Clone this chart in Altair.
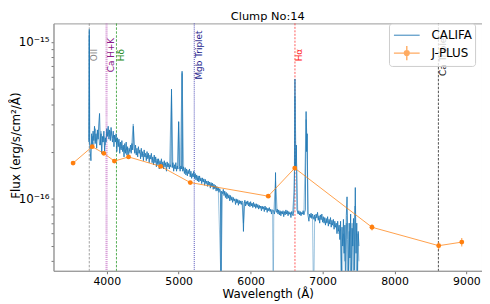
import altair as alt
import pandas as pd

# ---------------- data (flux in units of 1e-16 erg/s/cm2/A) ----------------
califa_wl = [
    3750, 3757, 3764, 3780, 3790, 3800, 3810, 3820, 3830, 3840,
    3850, 3860, 3870, 3880, 3890, 3900, 3910, 3920, 3930, 3940,
    3950, 3960, 3970, 3980, 3990, 4000, 4010, 4020, 4030, 4040,
    4050, 4060, 4070, 4080, 4090, 4100, 4110, 4120, 4130, 4140,
    4150, 4160, 4170, 4180, 4190, 4200, 4210, 4220, 4230, 4240,
    4250, 4260, 4270, 4280, 4290, 4300, 4310, 4320, 4330, 4340,
    4350, 4360, 4370, 4380, 4390, 4400, 4410, 4420, 4430, 4440,
    4450, 4460, 4470, 4480, 4490, 4500, 4510, 4520, 4530, 4540,
    4550, 4560, 4570, 4580, 4590, 4600, 4610, 4620, 4630, 4640,
    4650, 4660, 4670, 4680, 4690, 4700, 4710, 4720, 4730, 4740,
    4750, 4760, 4770, 4780, 4790, 4800, 4810, 4820, 4830, 4840,
    4850, 4860, 4870, 4880, 4890, 4900, 4910, 4920, 4930, 4940,
    4950, 4960, 4970, 4980, 4990, 4999, 5010, 5020, 5030, 5040,
    5047, 5055, 5065, 5080, 5090, 5100, 5110, 5120, 5130, 5140,
    5150, 5160, 5170, 5180, 5190, 5200, 5210, 5220, 5230, 5240,
    5250, 5260, 5270, 5280, 5290, 5300, 5310, 5320, 5330, 5340,
    5350, 5360, 5370, 5380, 5390, 5400, 5410, 5420, 5430, 5440,
    5450, 5460, 5470, 5480, 5490, 5500, 5510, 5520, 5530, 5540,
    5550, 5560, 5570, 5580, 5588, 5596, 5610, 5620, 5630, 5640,
    5650, 5660, 5670, 5680, 5690, 5700, 5710, 5720, 5730, 5740,
    5750, 5760, 5770, 5780, 5790, 5800, 5810, 5820, 5830, 5840,
    5850, 5860, 5870, 5880, 5890, 5900, 5910, 5920, 5930, 5940,
    5950, 5960, 5970, 5980, 5990, 6000, 6010, 6020, 6030, 6040,
    6050, 6060, 6070, 6080, 6090, 6100, 6110, 6120, 6130, 6140,
    6150, 6160, 6170, 6180, 6190, 6200, 6210, 6220, 6230, 6240,
    6250, 6260, 6270, 6280, 6290, 6300, 6320, 6330, 6340, 6346,
    6352, 6360, 6370, 6380, 6390, 6400, 6410, 6420, 6430, 6440,
    6450, 6460, 6470, 6480, 6490, 6500, 6510, 6520, 6530, 6540,
    6550, 6560, 6570, 6580, 6590, 6600, 6610, 6616, 6622, 6636,
    6645, 6660, 6670, 6680, 6690, 6700, 6710, 6720, 6730, 6740,
    6750, 6760, 6771, 6778, 6786, 6795, 6810, 6820, 6830, 6840,
    6850, 6860, 6880, 6890, 6900, 6910, 6920, 6930, 6940, 6950,
    6960, 6970, 6980, 6990, 7000, 7010, 7020, 7030, 7040, 7050,
    7060, 7070, 7080, 7090, 7100, 7110, 7120, 7130, 7140, 7150,
    7160, 7170, 7180, 7190, 7200, 7210, 7220, 7230, 7240, 7250,
    7260, 7270, 7280, 7290, 7300, 7310, 7320, 7330, 7340, 7350,
    7360, 7370, 7380, 7390, 7400, 7410, 7420, 7430, 7440, 7455,
    7465, 7475, 7485, 7495, 7505,
]
califa_flux = [
    2.30, 12.0, 2.20, 1.75, 2.60, 2.20, 2.70, 2.35, 2.90, 2.25,
    2.60, 2.10, 2.75, 2.40, 3.00, 3.50, 2.20, 2.60, 1.95, 2.50,
    2.30, 2.70, 2.00, 2.45, 2.30, 2.80, 2.50, 2.90, 2.40, 2.75,
    2.35, 2.85, 2.50, 2.30, 2.70, 2.15, 2.55, 2.30, 2.60, 2.00,
    2.45, 2.15, 2.40, 1.95, 2.30, 2.05, 2.35, 2.00, 2.20, 1.85,
    2.25, 1.95, 2.30, 1.90, 2.15, 1.80, 2.10, 2.00, 2.20, 1.95,
    2.25, 2.05, 2.90, 2.10, 1.95, 2.20, 1.90, 2.10, 1.85, 2.15,
    1.95, 2.05, 1.80, 2.10, 1.85, 2.00, 1.75, 2.05, 1.85, 1.95,
    1.75, 2.00, 1.80, 1.95, 1.70, 1.90, 1.80, 1.95, 1.70, 1.85,
    1.65, 1.90, 1.70, 1.85, 1.60, 1.80, 1.65, 1.80, 1.55, 1.75,
    1.60, 1.80, 1.60, 1.72, 1.55, 1.75, 1.60, 1.70, 1.50, 1.72,
    1.60, 1.68, 1.55, 1.65, 1.60, 5.00, 1.58, 1.70, 1.50, 1.65,
    1.55, 1.70, 1.50, 1.62, 1.55, 3.10, 1.60, 1.50, 1.62, 1.55,
    6.50, 1.50, 1.60, 1.45, 1.58, 1.42, 1.55, 1.40, 1.52, 1.45,
    1.55, 1.38, 1.50, 1.35, 1.45, 1.38, 1.50, 1.35, 1.45, 1.32,
    1.42, 1.30, 1.40, 1.28, 1.40, 1.30, 1.36, 1.25, 1.36, 1.28,
    1.34, 1.22, 1.33, 1.25, 1.30, 1.20, 1.30, 1.22, 1.28, 1.17,
    1.27, 1.20, 1.26, 1.15, 1.24, 1.16, 1.22, 1.12, 1.20, 1.13,
    1.18, 1.10, 1.16, 1.12, 0.25, 1.12, 1.08, 1.15, 1.05, 1.12,
    1.02, 1.10, 1.00, 1.08, 1.01, 1.06, 0.97, 1.05, 0.98, 1.03,
    0.95, 1.02, 0.97, 1.00, 0.92, 1.00, 0.94, 0.99, 0.91, 0.98,
    0.93, 0.97, 0.92, 0.97, 0.95, 0.62, 0.93, 0.98, 0.90, 0.96,
    0.92, 0.97, 0.90, 0.95, 0.89, 0.96, 0.90, 0.94, 0.88, 0.95,
    0.89, 0.93, 0.87, 0.93, 0.88, 0.92, 0.86, 0.91, 0.87, 0.90,
    0.84, 0.90, 0.86, 0.89, 0.83, 0.90, 0.85, 0.88, 0.82, 0.87,
    0.84, 0.88, 0.83, 0.86, 0.80, 0.85, 0.84, 0.80, 0.86, 1.47,
    0.84, 0.82, 0.86, 0.80, 0.85, 0.79, 0.84, 0.78, 0.83, 0.80,
    0.84, 0.77, 0.83, 0.79, 0.85, 0.80, 0.84, 0.78, 0.83, 0.80,
    0.82, 0.76, 0.83, 0.80, 0.78, 0.85, 1.50, 5.80, 1.60, 2.20,
    0.85, 0.80, 0.84, 0.79, 0.83, 0.78, 0.82, 0.80, 0.84, 0.79,
    0.82, 0.85, 3.60, 2.00, 2.60, 0.80, 0.72, 0.80, 0.76, 0.81,
    0.75, 0.80, 0.74, 0.79, 0.72, 0.80, 0.76, 0.82, 0.73, 0.78,
    0.70, 0.79, 0.74, 0.80, 0.71, 0.77, 0.70, 0.76, 0.68, 0.75,
    0.70, 0.77, 0.67, 0.74, 0.69, 0.76, 0.66, 0.73, 0.68, 0.74,
    0.64, 0.72, 0.66, 0.70, 0.60, 0.72, 0.62, 0.68, 0.55, 0.72,
    0.30, 0.66, 0.50, 0.74, 0.45, 0.68, 0.25, 0.78, 1.03, 0.55,
    0.30, 0.70, 0.42, 0.80, 0.25, 0.65, 0.50, 0.75, 0.35, 1.18,
    0.45, 0.70, 0.30, 0.62, 0.50,
]

califa_light_wl = [
    3755, 3757, 3760, 3780, 3800, 3820, 3840, 3860, 3880, 3900,
    3920, 3940, 3960, 3980, 4000, 4020, 4040, 4060, 4080, 4100,
    4130, 4160, 4190, 4220, 4250, 4280, 4310, 4340, 4368, 4390,
    4420, 4450, 4480, 4510, 4540, 4570, 4600, 4630, 4660, 4690,
    4720, 4750, 4780, 4810, 4840, 4870, 4900, 4920, 4950, 4980,
    4999, 5020, 5047, 5070, 5100, 5130, 5160, 5190, 5220, 5250,
    5280, 5310, 5340, 5370, 5400, 5430, 5460, 5490, 5520, 5550,
    5588, 5610, 5640, 5670, 5700, 5730, 5760, 5790, 5820, 5850,
    5880, 5900, 5920, 5950, 5980, 6010, 6040, 6070, 6100, 6130,
    6160, 6190, 6220, 6250, 6280, 6305, 6314, 6322, 6346, 6370,
    6400, 6430, 6460, 6490, 6520, 6550, 6580, 6605, 6616, 6628,
    6640, 6655, 6680, 6710, 6740, 6771, 6785, 6800, 6830, 6860,
    6875, 6890, 6920, 6950, 6980, 7010, 7040, 7070, 7100, 7130,
    7160, 7190, 7220, 7250, 7270, 7290, 7310, 7330, 7350, 7370,
    7390, 7410, 7430, 7450, 7470, 7490, 7505,
]
califa_light_flux = [
    2.40, 11.0, 2.30, 2.10, 2.50, 2.20, 2.80, 2.35, 2.65, 2.20,
    2.70, 2.30, 2.50, 2.20, 2.60, 2.65, 2.50, 2.70, 2.45, 2.55,
    2.30, 2.35, 2.10, 2.15, 2.00, 2.10, 1.95, 2.05, 3.00, 2.00,
    1.95, 2.00, 1.90, 1.92, 1.85, 1.88, 1.80, 1.80, 1.75, 1.72,
    1.70, 1.68, 1.65, 1.66, 1.62, 1.60, 4.60, 1.60, 1.58, 1.56,
    3.10, 1.55, 6.30, 1.52, 1.48, 1.46, 1.44, 1.40, 1.40, 1.36,
    1.34, 1.32, 1.30, 1.28, 1.25, 1.23, 1.22, 1.19, 1.17, 1.15,
    0.30, 1.10, 1.08, 1.05, 1.03, 1.00, 0.99, 0.97, 0.96, 0.95,
    0.94, 0.70, 0.95, 0.94, 0.93, 0.92, 0.91, 0.90, 0.89, 0.89,
    0.88, 0.87, 0.86, 0.86, 0.84, 0.83, 0.20, 0.83, 1.30, 0.83,
    0.82, 0.82, 0.81, 0.82, 0.80, 0.80, 0.81, 1.10, 4.50, 2.20,
    1.60, 0.82, 0.80, 0.80, 0.81, 3.20, 2.40, 0.80, 0.78, 0.77,
    0.20, 0.76, 0.76, 0.75, 0.74, 0.73, 0.71, 0.72, 0.70, 0.69,
    0.67, 0.66, 0.60, 0.64, 0.25, 0.60, 0.40, 0.70, 0.28, 0.62,
    0.30, 0.70, 0.25, 0.90, 0.30, 0.60, 0.40,
]

jplus_wl = [3532, 3798, 3959, 4106, 4303, 4750, 5161, 6245, 6613, 7687, 8614, 8935]
jplus_flux = [1.69, 2.15, 1.95, 1.74, 1.85, 1.61, 1.27, 1.04, 1.57, 0.659, 0.503, 0.530]
jplus_err = [0.02, 0.03, 0.02, 0.02, 0.02, 0.02, 0.02, 0.02, 0.05, 0.03, 0.028, 0.033]

line_names = ["OII", "Ca H+K", "Hδ", "Mgb Triplet", "Hα", "Ca Triplet"]
line_wl = [3757, 3997, 4135, 5216, 6616, 8610]

series_names = ["CALIFA", "J-PLUS"]
title_text = "Clump No:14"
x_title = "Wavelength (Å)"
y_title = "Flux (erg/s/cm²/Å)"
x_ticks = [4000, 5000, 6000, 7000, 8000, 9000]
y_ticks = [4e-17, 5e-17, 6e-17, 7e-17, 8e-17, 9e-17,
           1e-16, 2e-16, 3e-16, 4e-16, 5e-16, 6e-16, 7e-16, 8e-16, 9e-16, 1e-15]

UNIT = 1e-16
califa = pd.DataFrame({"wl": califa_wl, "flux": [v * UNIT for v in califa_flux]})
califa_l = pd.DataFrame({"wl": califa_light_wl, "flux": [v * UNIT for v in califa_light_flux]})
jplus = pd.DataFrame({
    "wl": jplus_wl,
    "flux": [v * UNIT for v in jplus_flux],
    "lo": [(v - e) * UNIT for v, e in zip(jplus_flux, jplus_err)],
    "hi": [(v + e) * UNIT for v, e in zip(jplus_flux, jplus_err)],
})
lines = pd.DataFrame({"name": line_names, "wl": line_wl})

# ---------------- styles ----------------
W, H = 433, 250
BLUE = "#1f77b4"
ORANGE = "#ff7f0e"
FONT = "DejaVu Sans"

xscale = alt.Scale(domain=[3260, 9216], nice=False, zero=False)
yscale = alt.Scale(type="log", domain=[3.48e-17, 1.312e-15], nice=False)

X = alt.X("wl:Q", scale=xscale, axis=alt.Axis(
    values=x_ticks, format="d", title=x_title, grid=False,
    labelFontSize=11, titleFontSize=12, tickSize=3, labelPadding=2, titlePadding=2))
Y = alt.Y("flux:Q", scale=yscale, axis=alt.Axis(
    values=y_ticks, title=y_title, grid=False,
    labelExpr="abs(log(datum.value)/LN10 + 15) < 0.01 ? '10⁻¹⁵' : (abs(log(datum.value)/LN10 + 16) < 0.01 ? '10⁻¹⁶' : '')",
    labelFontSize=12, titleFontSize=12, tickSize=2.5, labelPadding=2,
    titleX=-38, titleY=H / 2 - 2, titleAngle=270, titleAlign="center", titleBaseline="middle"))

layers = []

# vertical reference lines
line_styles = [
    dict(color="#8a8a8a", strokeDash=[2.5, 1.5], strokeWidth=0.8, opacity=1.0),
    dict(color="#c060c0", strokeDash=[1.2, 0.8], strokeWidth=2.2, opacity=0.6),
    dict(color="#2a9a2a", strokeDash=[2.5, 1.5], strokeWidth=0.8, opacity=1.0),
    dict(color="#3a3ab0", strokeDash=[1, 1], strokeWidth=1.0, opacity=0.9),
    dict(color="#ff3030", strokeDash=[2, 1.5], strokeWidth=0.8, opacity=1.0),
    dict(color="#222222", strokeDash=[2.5, 1.5], strokeWidth=0.8, opacity=1.0),
]
label_colors = ["#8a8a8a", "#8a1a8a", "#1a8a1a", "#1a1a8a", "#ff2020", "#111111"]
for i, name in enumerate(line_names):
    sub = lines[lines["name"] == name]
    layers.append(alt.Chart(sub).mark_rule(**line_styles[i]).encode(x=X))
    layers.append(alt.Chart(sub).mark_text(
        angle=270, align="center", baseline="middle", dy=4.5,
        fontSize=9, font=FONT, color=label_colors[i]
    ).encode(x=X, y=alt.value(32), text="name:N"))

# CALIFA spectrum (light and dark traces)
layers.append(alt.Chart(califa_l).mark_line(
    color=BLUE, strokeWidth=1.0, opacity=0.45, clip=True).encode(x=X, y=Y))
layers.append(alt.Chart(califa).mark_line(
    color=BLUE, strokeWidth=0.9, opacity=0.95, clip=True).encode(x=X, y=Y))

# J-PLUS photometry
layers.append(alt.Chart(jplus).mark_line(
    color=ORANGE, strokeWidth=1.0, opacity=0.75, clip=True).encode(x=X, y=Y))
layers.append(alt.Chart(jplus).mark_rule(
    color=ORANGE, strokeWidth=1.0, opacity=0.8).encode(
    x=X, y=alt.Y("lo:Q", scale=yscale), y2="hi:Q"))
layers.append(alt.Chart(jplus).mark_point(
    filled=True, color=ORANGE, size=24, opacity=1).encode(x=X, y=Y))

# legend (built from an off-canvas point layer)
path_califa = "M-0.875,0L2.375,0"
path_jplus = ("M-0.875,0L2.375,0M0.75,-0.9L0.75,0.9"
              "M0.45,0A0.3,0.3 0 1,0 1.05,0A0.3,0.3 0 1,0 0.45,0Z")
leg = alt.Legend(
    title=None, orient="none", legendX=339, legendY=0,
    symbolSize=256, symbolStrokeWidth=1.4, symbolOpacity=0.65,
    labelFontSize=12, labelFont=FONT, labelOffset=22, rowPadding=2,
    padding=3, fillColor="rgba(255,255,255,0.8)", strokeColor="#cccccc",
    cornerRadius=3)
leg_df = pd.DataFrame({"series": series_names})
layers.append(alt.Chart(leg_df).mark_point(filled=True, clip=True, strokeWidth=1.4).encode(
    x=alt.value(-200), y=alt.value(-200),
    fill=alt.Fill("series:N", scale=alt.Scale(domain=series_names, range=[BLUE, ORANGE]), legend=leg),
    stroke=alt.Stroke("series:N", scale=alt.Scale(domain=series_names, range=[BLUE, ORANGE]), legend=leg),
    shape=alt.Shape("series:N", scale=alt.Scale(domain=series_names, range=[path_califa, path_jplus]), legend=leg),
))

chart = alt.layer(*layers).properties(
    width=W, height=H,
    title=alt.Title(title_text, fontSize=11.5, fontWeight="normal", font=FONT,
                    anchor="middle", offset=0, color="black"),
    autosize=alt.AutoSizeParams(type="none"),
    padding={"left": 46, "top": 14, "right": 0, "bottom": 32},
).configure(font=FONT).configure_view(
    stroke="#999999", strokeWidth=1
).configure_axis(
    domainColor="#999999", tickColor="#777777", labelColor="black", titleColor="black",
    titleFontWeight="normal", labelFont=FONT, titleFont=FONT
)

chart.save("out.html", embed_options={"renderer": "svg", "actions": False})
